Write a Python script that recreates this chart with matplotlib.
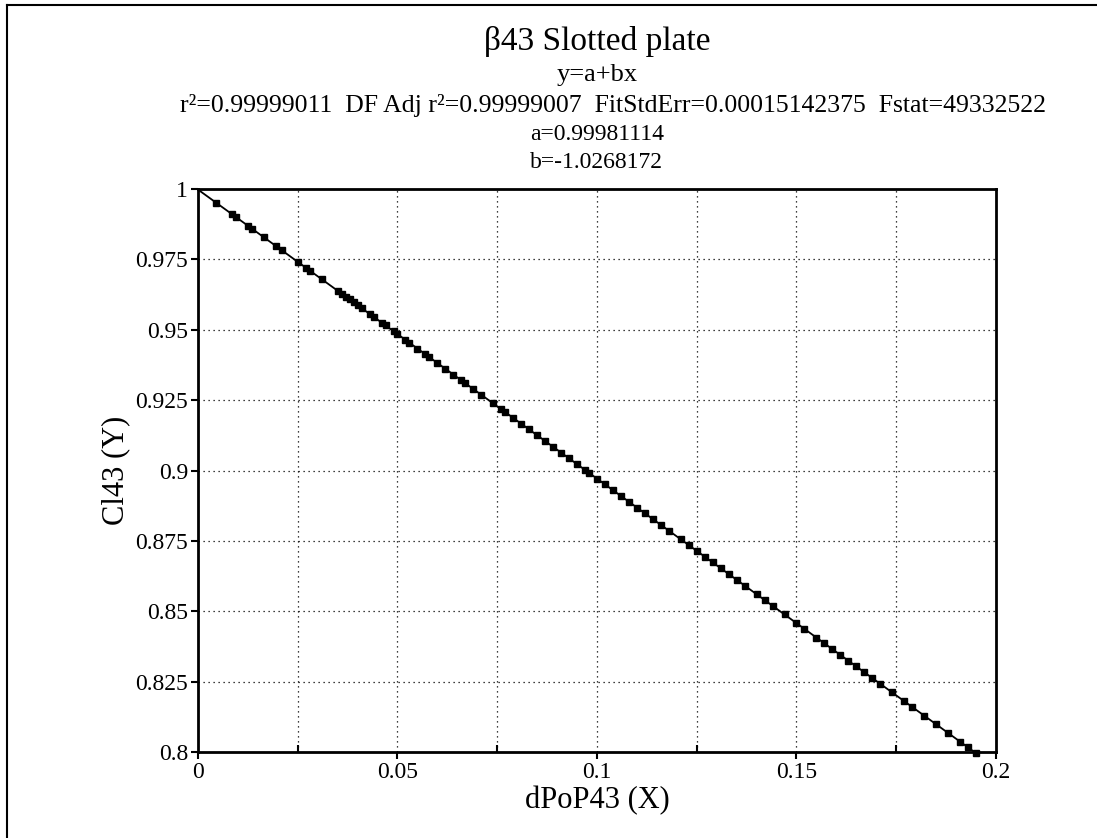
import matplotlib
matplotlib.use("Agg")
import matplotlib.pyplot as plt
from matplotlib.lines import Line2D
import numpy as np

plt.rcParams['font.family'] = ['Liberation Serif', 'DejaVu Serif']

# fit coefficients (from the chart header)
a = 0.99981114
b = -1.0268172

# data points
x_pts = [0.0045, 0.0085, 0.0095, 0.0125, 0.0135, 0.0165, 0.0195, 0.021, 0.025, 0.027,
         0.028, 0.031, 0.035, 0.036, 0.037, 0.038, 0.039, 0.040, 0.041, 0.043,
         0.044, 0.046, 0.047, 0.049, 0.050, 0.052, 0.053, 0.055, 0.057, 0.058,
         0.060, 0.062, 0.064, 0.066, 0.067, 0.069, 0.071, 0.074, 0.076, 0.077,
         0.079, 0.081, 0.083, 0.085, 0.087, 0.089, 0.091, 0.093, 0.095, 0.097,
         0.098, 0.100, 0.102, 0.104, 0.106, 0.108, 0.110, 0.112, 0.114, 0.116,
         0.118, 0.121, 0.123, 0.125, 0.127, 0.129, 0.131, 0.133, 0.135, 0.137,
         0.140, 0.142, 0.144, 0.147, 0.150, 0.152, 0.155, 0.157, 0.159, 0.161,
         0.163, 0.165, 0.167, 0.169, 0.171, 0.174, 0.177, 0.179, 0.182, 0.185,
         0.188, 0.191, 0.193, 0.195]
y_pts = [0.99519, 0.99108, 0.99006, 0.98697, 0.98595, 0.98287, 0.97979, 0.97825, 0.97414, 0.97209,
         0.97106, 0.96798, 0.96387, 0.96284, 0.96182, 0.96079, 0.95976, 0.95874, 0.95771, 0.95566,
         0.95463, 0.95258, 0.95155, 0.94950, 0.94847, 0.94642, 0.94539, 0.94333, 0.94128, 0.94025,
         0.93820, 0.93615, 0.93409, 0.93204, 0.93101, 0.92896, 0.92691, 0.92382, 0.92177, 0.92075,
         0.91869, 0.91664, 0.91459, 0.91253, 0.91048, 0.90842, 0.90637, 0.90432, 0.90226, 0.90021,
         0.89918, 0.89713, 0.89507, 0.89302, 0.89097, 0.88891, 0.88686, 0.88480, 0.88275, 0.88070,
         0.87864, 0.87556, 0.87351, 0.87146, 0.86940, 0.86735, 0.86530, 0.86324, 0.86119, 0.85914,
         0.85606, 0.85400, 0.85195, 0.84887, 0.84579, 0.84373, 0.84065, 0.83860, 0.83655, 0.83449,
         0.83244, 0.83039, 0.82833, 0.82628, 0.82423, 0.82115, 0.81807, 0.81601, 0.81293, 0.80985,
         0.80677, 0.80369, 0.80164, 0.79958]

x_ticks = [0, 0.05, 0.1, 0.15, 0.2]
x_ticklabels = ["0", "0.05", "0.1", "0.15", "0.2"]
y_ticks = [0.8, 0.825, 0.85, 0.875, 0.9, 0.925, 0.95, 0.975, 1]
y_ticklabels = ["0.8", "0.825", "0.85", "0.875", "0.9", "0.925", "0.95", "0.975", "1"]

fig = plt.figure(figsize=(10.97, 8.38), dpi=100)
ax = fig.add_axes([0.1805, 0.1026, 0.7274, 0.6718])

# fit line
xf = np.linspace(0, 0.2, 200)
ax.plot(xf, a + b * xf, color="black", lw=1.3, zorder=3)
# data points
ax.plot(x_pts, y_pts, linestyle="none", marker="s", markersize=5, color="black",
        zorder=4, clip_on=False)

ax.set_xlim(0, 0.2)
ax.set_ylim(0.8, 1)
ax.set_xticks(x_ticks)
ax.set_xticklabels(x_ticklabels)
ax.set_xticks([0.025, 0.075, 0.125, 0.175], minor=True)
ax.set_yticks(y_ticks)
ax.set_yticklabels(y_ticklabels)
ax.tick_params(axis="both", which="major", labelsize=17, length=5, width=1.5,
               direction="out", pad=2)
ax.tick_params(axis="x", which="minor", length=5, width=1.5, direction="in")
ax.grid(True, which="both", linestyle=(0, (1, 3)), color="black", lw=0.9)
for s in ax.spines.values():
    s.set_linewidth(2)

ax.set_xlabel("dPoP43 (X)", fontsize=22, labelpad=2)
ax.set_ylabel("Cl43 (Y)", fontsize=22, labelpad=4)

# header text
cx = 0.544
fig.text(cx, 0.950, "β43 Slotted plate", ha="center", va="center", fontsize=24)
fig.text(cx, 0.910, "y=a+bx", ha="center", va="center", fontsize=19)
fig.text(0.559, 0.874, "r²=0.99999011  DF Adj r²=0.99999007  FitStdErr=0.00015142375  Fstat=49332522",
         ha="center", va="center", fontsize=18.5)
fig.text(cx, 0.839, "a=0.99981114", ha="center", va="center", fontsize=17)
fig.text(cx, 0.806, "b=-1.0268172", ha="center", va="center", fontsize=17)

# outer frame (top and left edges)
fig.add_artist(Line2D([7 / 1097, 7 / 1097], [0, 1 - 5 / 838], color="black", lw=1.5))
fig.add_artist(Line2D([7 / 1097, 1], [1 - 5 / 838, 1 - 5 / 838], color="black", lw=1.5))

fig.savefig("out.png", dpi=100)
